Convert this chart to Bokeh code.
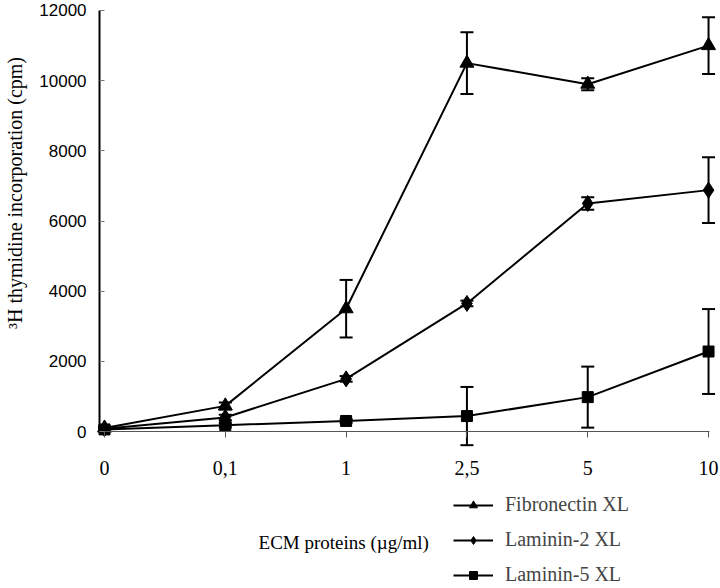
import math
from bokeh.plotting import figure
from bokeh.models import (ColumnDataSource, Range1d, LinearAxis, FixedTicker, Whisker,
                          TeeHead, Legend, LegendItem, Label)
from bokeh.embed import file_html
from bokeh.resources import INLINE

categories = ["0", "0,1", "1", "2,5", "5", "10"]
fibronectin = [100, 730, 3500, 10500, 9900, 11000]
fibronectin_sd = [50, 100, 820, 880, 170, 810]
laminin2 = [80, 400, 1500, 3650, 6500, 6880]
laminin2_sd = [30, 80, 80, 80, 180, 940]
laminin5 = [60, 180, 300, 440, 980, 2280]
laminin5_sd = [30, 60, 50, 830, 870, 1210]
series_names = ["Fibronectin XL", "Laminin-2 XL", "Laminin-5 XL"]
y_ticks = [0, 2000, 4000, 6000, 8000, 10000, 12000]

SERIF = "Liberation Serif"
SANS = "Liberation Sans"

xpos = list(range(len(categories)))

p = figure(width=720, height=588, output_backend="svg", toolbar_location=None,
           x_range=Range1d(-0.861, 5.099), y_range=Range1d(-4475, 12285),
           x_axis_location=None, y_axis_location=None,
           min_border_left=0, min_border_right=0, min_border_top=0, min_border_bottom=0)
p.grid.visible = False
p.outline_line_color = None

yax = LinearAxis(fixed_location=-0.041, bounds=(0, 12000), ticker=FixedTicker(ticks=y_ticks))
yax.axis_line_width = 2
yax.axis_line_color = "black"
yax.major_tick_in = 5
yax.major_tick_out = 0
yax.major_tick_line_color = "#777777"
yax.minor_tick_line_color = None
yax.major_label_standoff = 13
yax.major_label_text_font = SANS
yax.major_label_text_font_size = "17px"
yax.major_label_text_color = "black"
p.add_layout(yax, "left")

xax = LinearAxis(fixed_location=0, bounds=(-0.041, 5.005), ticker=FixedTicker(ticks=xpos),
                 major_label_overrides={i: c for i, c in zip(xpos, categories)})
xax.axis_line_color = "#555555"
xax.axis_line_width = 1
xax.major_tick_out = 6
xax.major_tick_in = 0
xax.major_tick_line_color = "#555555"
xax.minor_tick_line_color = None
xax.major_label_standoff = 23
xax.major_label_text_font = SERIF
xax.major_label_text_font_size = "20px"
xax.major_label_text_color = "black"
p.add_layout(xax, "below")

items = []
for name, vals, sd, marker, size in [
        (series_names[0], fibronectin, fibronectin_sd, "triangle", 14),
        (series_names[1], laminin2, laminin2_sd, "diamond", 16),
        (series_names[2], laminin5, laminin5_sd, "square", 11)]:
    src = ColumnDataSource(dict(x=xpos, y=vals,
                                lo=[v - s for v, s in zip(vals, sd)],
                                hi=[v + s for v, s in zip(vals, sd)]))
    w = Whisker(source=src, base="x", upper="hi", lower="lo", line_width=2, line_color="black",
                upper_head=TeeHead(size=13, line_width=2, line_color="black"),
                lower_head=TeeHead(size=13, line_width=2, line_color="black"))
    p.add_layout(w)
    lr = p.line("x", "y", source=src, line_width=2, line_color="black")
    mr = p.scatter("x", "y", source=src, marker=marker, size=size,
                   fill_color="black", line_color="black")
    items.append(LegendItem(label=name, renderers=[lr, mr]))

legend = Legend(items=items, location=(453, 2), glyph_width=40, glyph_height=20,
                label_standoff=12, spacing=12, label_height=20,
                label_text_font=SERIF, label_text_font_size="20px",
                padding=0, margin=0, border_line_color=None, background_fill_alpha=0)
p.add_layout(legend)

ylab = Label(x=-0.745, y=6869, text="³H thymidine incorporation  (cpm)", angle=math.pi / 2,
             text_align="center", text_baseline="middle",
             text_font=SERIF, text_font_size="20px", text_color="black")
p.add_layout(ylab)

xlab = Label(x=1.275, y=-3164, text="ECM proteins (µg/ml)",
             text_align="left", text_baseline="middle",
             text_font=SERIF, text_font_size="19px", text_color="black")
p.add_layout(xlab)

open("out.html", "w").write(file_html(p, INLINE))
